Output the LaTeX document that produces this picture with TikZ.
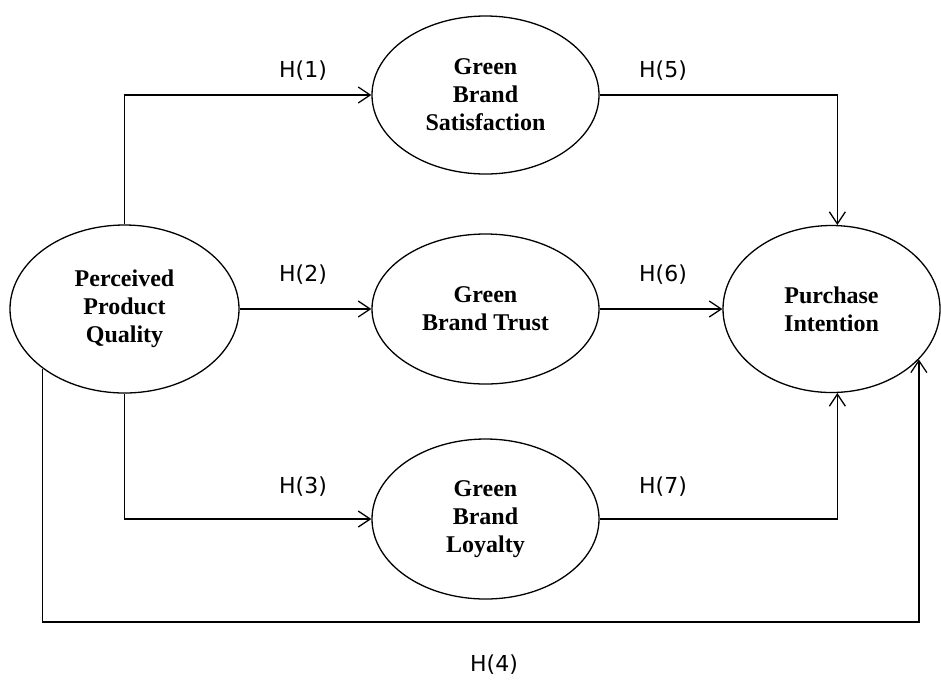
\documentclass[tikz,border=0pt]{standalone}
\usepackage{fontspec}
\setmainfont{Liberation Serif}
\newfontfamily\hypfont{DejaVu Sans}
\usetikzlibrary{shapes.geometric,arrows.meta}

\tikzset{
  construct/.style={ellipse, draw=black, line width=1.3pt, inner sep=0pt, align=center,
    font=\fontsize{24pt}{28pt}\selectfont\bfseries},
  hyp/.style={inner sep=0pt, font=\hypfont\fontsize{22pt}{26pt}\selectfont},
  link/.style={line width=1.3pt, -{Straight Barb[length=12pt,width=16pt]}, color=black}
}

\begin{document}
\begin{tikzpicture}
\useasboundingbox (0pt,0pt) rectangle (941pt,-681pt);
\node (ppq) [construct, minimum width=229pt, minimum height=168pt] at (124.5pt, -309pt) {Perceived\\Product\\Quality};
\node (gbs) [construct, minimum width=227pt, minimum height=158pt] at (485.5pt, -95pt) {Green\\Brand\\Satisfaction};
\node (gbt) [construct, minimum width=227pt, minimum height=150pt] at (485.5pt, -309pt) {Green\\Brand Trust};
\node (gbl) [construct, minimum width=227pt, minimum height=160pt] at (485.5pt, -519pt) {Green\\Brand\\Loyalty};
\node (pi) [construct, minimum width=217pt, minimum height=167pt] at (831.5pt, -309pt) {Purchase\\Intention};
\coordinate (base) at (480pt, -622pt);
\draw [link] (ppq.north) |- (gbs.west);
\draw [link] (ppq.east) -- (gbt.west);
\draw [link] (ppq.south) |- (gbl.west);
\draw [link] (gbs.east) -| (pi.86);
\draw [link] (gbt.east) -- (pi.west);
\draw [link] (gbl.east) -| (pi.-86);
\draw [link] (ppq.216) |- (base) -| (pi.-30);
\node (h1) [hyp] at (303pt, -71pt) {H(1)};
\node (h2) [hyp] at (303pt, -275pt) {H(2)};
\node (h3) [hyp] at (303pt, -487pt) {H(3)};
\node (h4) [hyp] at (494pt, -665pt) {H(4)};
\node (h5) [hyp] at (663pt, -71pt) {H(5)};
\node (h6) [hyp] at (663pt, -275pt) {H(6)};
\node (h7) [hyp] at (663pt, -487pt) {H(7)};
\end{tikzpicture}
\end{document}
